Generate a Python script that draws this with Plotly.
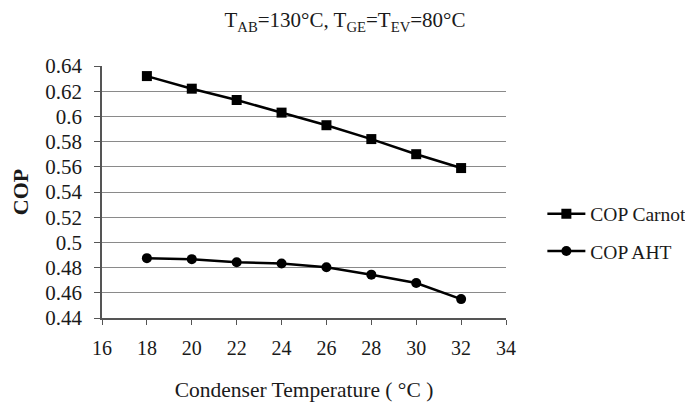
import plotly.graph_objects as go

temps = [18, 20, 22, 24, 26, 28, 30, 32]
cop_carnot = [0.632, 0.622, 0.613, 0.603, 0.593, 0.582, 0.570, 0.559]
cop_aht = [0.4875, 0.4867, 0.4843, 0.4832, 0.4803, 0.4744, 0.4678, 0.455]
y_ticks = [0.44, 0.46, 0.48, 0.5, 0.52, 0.54, 0.56, 0.58, 0.6, 0.62, 0.64]
y_ticktext = ["0.44", "0.46", "0.48", "0.5", "0.52", "0.54", "0.56", "0.58", "0.6", "0.62", "0.64"]
x_ticks = [16, 18, 20, 22, 24, 26, 28, 30, 32, 34]

FONT = "Liberation Serif, Times New Roman, serif"
TXT = "#1a1a1a"

fig = go.Figure()
fig.add_trace(go.Scatter(
    x=temps, y=cop_carnot, name="COP Carnot", mode="lines+markers",
    line=dict(color="black", width=2.5),
    marker=dict(symbol="square", size=10, color="black"),
    legendgroup="a",
))
fig.add_trace(go.Scatter(
    x=temps, y=cop_aht, name="COP AHT", mode="lines+markers",
    line=dict(color="black", width=2.5),
    marker=dict(symbol="circle", size=10, color="black"),
    legendgroup="b",
))

# page body has an 8px margin; the figure is sized so that it fills the window
fig.update_layout(
    width=685, height=395,
    margin=dict(l=94, r=187, t=58, b=85, autoexpand=False),
    paper_bgcolor="white", plot_bgcolor="white",
    font=dict(family=FONT, size=20, color=TXT),
    title=dict(
        text="T<sub>AB</sub>=130°C, T<sub>GE</sub>=T<sub>EV</sub>=80°C",
        x=0.492, xanchor="center", y=0.970, yanchor="middle",
        font=dict(family=FONT, size=21, color=TXT),
    ),
    showlegend=True,
    legend=dict(
        x=1.09, y=0.49, xanchor="left", yanchor="top",
        font=dict(family=FONT, size=19.5, color=TXT),
        traceorder="grouped", tracegroupgap=9,
        itemwidth=38,
        bgcolor="rgba(0,0,0,0)",
    ),
    xaxis=dict(
        range=[16, 34], tickvals=x_ticks, showgrid=False,
        automargin=False,
        showline=True, linecolor="#555", linewidth=1.5,
        ticks="outside", ticklen=5, tickcolor="#555",
        ticklabelstandoff=6,
        zeroline=False,
        tickfont=dict(family=FONT, size=20, color=TXT),
        title=dict(text="Condenser Temperature ( °C )", standoff=24,
                   font=dict(family=FONT, size=21.5, color=TXT)),
    ),
    yaxis=dict(
        range=[0.44, 0.64], tickvals=y_ticks, ticktext=y_ticktext,
        automargin=False,
        showgrid=True, gridcolor="#8a8a8a", gridwidth=1.2,
        showline=True, linecolor="#555", linewidth=1.5,
        ticks="outside", ticklen=6, tickcolor="#555",
        ticklabelstandoff=8,
        zeroline=False,
        tickfont=dict(family=FONT, size=21, color=TXT),
        title=dict(text="<b>COP</b>", standoff=28,
                   font=dict(family=FONT, size=22, color=TXT)),
    ),
)

fig.write_html("out.html")
